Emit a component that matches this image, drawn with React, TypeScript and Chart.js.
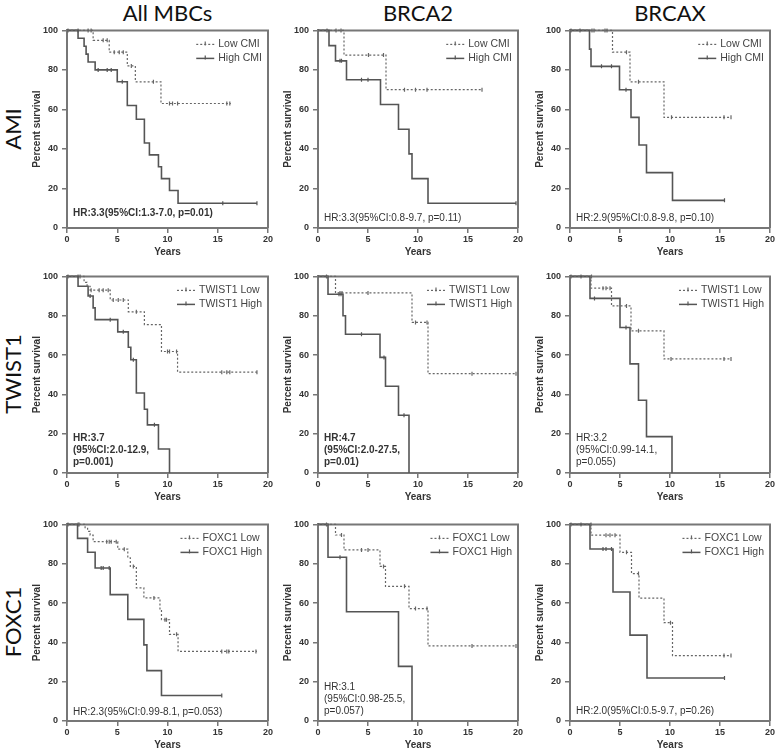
import React, { useEffect, useRef } from 'react';
import { Chart, registerables } from 'chart.js';

Chart.register(...registerables);

type Pt = [number, number];

// ---------- labels ----------
const COL_TITLES = ['All MBCs', 'BRCA2', 'BRCAX'];
const ROW_TITLES = ['AMI', 'TWIST1', 'FOXC1'];
const LEGEND_LOW = ['Low CMI', 'TWIST1 Low', 'FOXC1 Low'];
const LEGEND_HIGH = ['High CMI', 'TWIST1 High', 'FOXC1 High'];
const X_TITLE = 'Years';
const Y_TITLE = 'Percent survival';
const X_RANGE: Pt = [0, 20];
const X_STEP = 5;
const Y_RANGE: Pt = [0, 100];
const Y_STEP = 20;

const HR_TEXT: string[][] = [
  ['HR:3.3(95%CI:1.3-7.0, p=0.01)'],
  ['HR:3.3(95%CI:0.8-9.7, p=0.11)'],
  ['HR:2.9(95%CI:0.8-9.8, p=0.10)'],
  ['HR:3.7', '(95%CI:2.0-12.9,', 'p=0.001)'],
  ['HR:4.7', '(95%CI:2.0-27.5,', 'p=0.01)'],
  ['HR:3.2', '(95%CI:0.99-14.1,', 'p=0.055)'],
  ['HR:2.3(95%CI:0.99-8.1, p=0.053)'],
  ['HR:3.1', '(95%CI:0.98-25.5,', 'p=0.057)'],
  ['HR:2.0(95%CI:0.5-9.7, p=0.26)'],
];
const HR_BOLD = [true, false, false, true, true, false, false, false, false];

// ---------- data: steps [years, % survival] and censored marks ----------
// AMI / All MBCs
const amiAllLow: Pt[] = [[0, 100], [2.6, 95], [4.2, 89], [6.0, 82], [6.8, 74], [9.35, 63], [16.3, 63]];
const amiAllLowCens: Pt[] = [[0.1, 100], [1.1, 100], [2.1, 100], [2.4, 100], [3.6, 95], [4.0, 95], [4.7, 89], [5.2, 89], [5.6, 89], [6.4, 82], [8.6, 74], [10.2, 63], [10.5, 63], [11.0, 63], [15.9, 63], [16.2, 63]];
const amiAllHigh: Pt[] = [[0, 100], [1.1, 96], [1.7, 92], [1.9, 88], [2.1, 84], [2.8, 80], [5.0, 74], [6.0, 62], [6.9, 55], [7.7, 43], [8.2, 37], [9.1, 31], [9.4, 25], [10.2, 19], [11.05, 12.5], [18.9, 12.5]];
const amiAllHighCens: Pt[] = [[3.1, 80], [4.0, 80], [4.4, 80], [5.5, 74], [15.5, 12.5], [18.9, 12.5]];
// AMI / BRCA2
const amiB2Low: Pt[] = [[0, 100], [2.6, 87.5], [6.8, 70], [16.4, 70]];
const amiB2LowCens: Pt[] = [[0.9, 100], [1.8, 100], [2.3, 100], [5.05, 87.5], [6.55, 87.5], [8.65, 70], [9.75, 70], [10.9, 70], [16.4, 70]];
const amiB2High: Pt[] = [[0, 100], [1.1, 92.3], [1.75, 84.6], [2.85, 75], [6.25, 62.5], [8.05, 50], [9.1, 37.5], [9.4, 25], [11.0, 12.5], [19.8, 12.5]];
const amiB2HighCens: Pt[] = [[2.2, 84.6], [2.35, 84.6], [4.35, 75], [5.0, 75], [19.8, 12.5]];
// AMI / BRCAX
const amiBXLow: Pt[] = [[0, 100], [4.25, 89], [6.0, 74], [9.4, 56], [16.1, 56]];
const amiBXLowCens: Pt[] = [[0.1, 100], [1.0, 100], [2.2, 100], [2.4, 100], [3.5, 100], [3.7, 100], [5.65, 89], [6.85, 74], [10.15, 56], [15.4, 56], [16.1, 56]];
const amiBXHigh: Pt[] = [[0, 100], [1.95, 90.5], [2.1, 81.8], [4.95, 70], [6.1, 56], [6.9, 42], [7.65, 28], [10.25, 14], [15.45, 14]];
const amiBXHighCens: Pt[] = [[3.15, 81.8], [4.15, 81.8], [5.6, 70], [15.45, 14]];
// TWIST1 / All MBCs
const twAllLow: Pt[] = [[0, 100], [1.7, 97], [2.0, 95], [2.3, 93], [4.3, 88], [6.1, 82], [7.7, 75.5], [9.4, 61.8], [11.0, 51.3], [18.9, 51.3]];
const twAllLowCens: Pt[] = [[0.1, 100], [1.1, 100], [1.3, 100], [2.4, 93], [3.2, 93], [3.6, 93], [4.1, 93], [4.6, 88], [5.1, 88], [5.6, 88], [6.9, 82], [10.0, 61.8], [10.2, 61.8], [10.9, 61.8], [15.4, 51.3], [15.9, 51.3], [16.2, 51.3], [18.9, 51.3]];
const twAllHigh: Pt[] = [[0, 100], [1.1, 95], [2.1, 90], [2.6, 84], [2.8, 78], [5.05, 71.8], [6.1, 64], [6.35, 57.6], [6.9, 40.7], [7.7, 32.4], [8.0, 24.5], [9.1, 12.2], [10.2, 0]];
const twAllHighCens: Pt[] = [[2.3, 90], [4.3, 78], [5.6, 71.8], [6.6, 57.6], [8.7, 24.5]];
// TWIST1 / BRCA2
const twB2Low: Pt[] = [[0, 100], [1.75, 91.6], [9.4, 76.6], [11.0, 50.5], [19.8, 50.5]];
const twB2LowCens: Pt[] = [[0.85, 100], [2.2, 91.6], [2.4, 91.6], [5.0, 91.6], [9.75, 76.6], [10.9, 76.6], [15.4, 50.5], [19.8, 50.5]];
const twB2High: Pt[] = [[0, 100], [1.0, 90.9], [2.5, 80], [2.75, 70.6], [6.2, 58.8], [6.75, 44.1], [8.05, 29.4], [9.1, 0]];
const twB2HighCens: Pt[] = [[2.1, 90.9], [2.3, 90.9], [4.35, 70.6], [6.6, 58.8], [8.6, 29.4]];
// TWIST1 / BRCAX
const twBXLow: Pt[] = [[0, 100], [2.1, 94], [4.15, 85], [6.1, 72.3], [9.4, 58], [16.1, 58]];
const twBXLowCens: Pt[] = [[0.1, 100], [1.1, 100], [2.15, 100], [3.3, 94], [3.6, 94], [4.0, 94], [5.65, 85], [6.85, 72.3], [10.1, 58], [15.4, 58], [16.1, 58]];
const twBXHigh: Pt[] = [[0, 100], [2.0, 88.8], [5.0, 74], [6.0, 55.5], [6.85, 37], [7.65, 18.5], [10.2, 0]];
const twBXHighCens: Pt[] = [[2.45, 88.8], [5.6, 74]];
// FOXC1 / All MBCs
const fxAllLow: Pt[] = [[0, 100], [1.8, 98], [2.05, 96.5], [2.3, 94.5], [2.6, 91.2], [5.05, 87.4], [6.05, 83], [6.3, 78.6], [6.9, 67.7], [7.65, 62.6], [9.25, 56.7], [9.4, 51.5], [10.2, 44.1], [11.05, 35.4], [18.9, 35.4]];
const fxAllLowCens: Pt[] = [[0.1, 100], [1.1, 100], [1.2, 100], [3.95, 91.2], [4.2, 91.2], [4.4, 91.2], [4.9, 91.2], [5.7, 87.4], [6.6, 78.6], [8.65, 62.6], [9.75, 51.5], [9.9, 51.5], [10.9, 44.1], [15.4, 35.4], [15.9, 35.4], [16.1, 35.4], [18.8, 35.4]];
const fxAllHigh: Pt[] = [[0, 100], [1.05, 92.9], [2.05, 85.8], [2.8, 77.8], [4.3, 64.3], [6.05, 51.7], [7.65, 38.7], [7.95, 25.6], [9.4, 13], [15.4, 13]];
const fxAllHighCens: Pt[] = [[3.4, 77.8], [3.6, 77.8], [4.2, 77.8], [15.4, 13]];
// FOXC1 / BRCA2
const fxB2Low: Pt[] = [[0, 100], [1.75, 94.6], [2.6, 87], [6.2, 78.6], [6.75, 68.5], [9.1, 57.2], [11.0, 38.2], [19.8, 38.2]];
const fxB2LowCens: Pt[] = [[0.85, 100], [2.35, 94.6], [4.35, 87], [5.0, 87], [6.55, 78.6], [8.65, 68.5], [9.75, 57.2], [10.9, 57.2], [15.4, 38.2], [19.8, 38.2]];
const fxB2High: Pt[] = [[0, 100], [1.0, 83.3], [2.85, 55.6], [8.05, 27.8], [9.4, 0]];
const fxB2HighCens: Pt[] = [[2.2, 83.3]];
// FOXC1 / BRCAX
const fxBXLow: Pt[] = [[0, 100], [2.1, 94.5], [5.0, 85.8], [6.15, 75], [6.9, 62.5], [9.4, 50], [10.25, 33.3], [16.1, 33.3]];
const fxBXLowCens: Pt[] = [[0.1, 100], [1.1, 100], [2.1, 100], [3.6, 94.5], [4.0, 94.5], [4.5, 94.5], [5.65, 85.8], [6.85, 75], [10.05, 50], [15.4, 33.3], [16.1, 33.3]];
const fxBXHigh: Pt[] = [[0, 100], [2.0, 87.5], [4.3, 65.6], [6.0, 43.7], [7.7, 21.9], [15.45, 21.9]];
const fxBXHighCens: Pt[] = [[3.3, 87.5], [3.6, 87.5], [4.15, 87.5], [15.45, 21.9]];

const PANEL_DATA: Pt[][][] = [
  [amiAllLow, amiAllLowCens, amiAllHigh, amiAllHighCens],
  [amiB2Low, amiB2LowCens, amiB2High, amiB2HighCens],
  [amiBXLow, amiBXLowCens, amiBXHigh, amiBXHighCens],
  [twAllLow, twAllLowCens, twAllHigh, twAllHighCens],
  [twB2Low, twB2LowCens, twB2High, twB2HighCens],
  [twBXLow, twBXLowCens, twBXHigh, twBXHighCens],
  [fxAllLow, fxAllLowCens, fxAllHigh, fxAllHighCens],
  [fxB2Low, fxB2LowCens, fxB2High, fxB2HighCens],
  [fxBXLow, fxBXLowCens, fxBXHigh, fxBXHighCens],
];

// ---------- layout (plot areas in page pixels) ----------
const COL_X: Pt[] = [[67, 268], [318, 518], [570, 770]];
const ROW_Y: Pt[] = [[29, 228], [275, 473], [523, 721]];
const HR_OFFSET = [15, 10, 10, 11, 11, 11, 9, 10, 10];
const Y_AXIS_W = 60;
const X_AXIS_H = 30;
const PAD = 8;

const SANS = '"Liberation Sans", Arial, sans-serif';
const AXIS_COLOR = '#777';
const TEXT_COLOR = '#333';
const LOW_COLOR = '#666';
const HIGH_COLOR = '#555';

const toXY = (arr: Pt[]) => arr.map(([x, y]) => ({ x, y }));

function drawMarker(ctx: CanvasRenderingContext2D, x: number, y: number, color: string) {
  ctx.save();
  ctx.setLineDash([]);
  ctx.strokeStyle = color;
  ctx.lineWidth = 1.2;
  ctx.beginPath();
  ctx.moveTo(x, y - 2);
  ctx.lineTo(x, y + 2);
  ctx.stroke();
  ctx.restore();
}

function Panel({ idx }: { idx: number }) {
  const ref = useRef<HTMLCanvasElement>(null);
  const row = Math.floor(idx / 3);
  const col = idx % 3;
  const [pl, pr] = COL_X[col];
  const [pt, pb] = ROW_Y[row];
  const left = pl - Y_AXIS_W;
  const top = pt - PAD;
  const width = pr - pl + Y_AXIS_W + PAD;
  const height = pb - pt + PAD + X_AXIS_H;

  useEffect(() => {
    const [low, lowC, high, highC] = PANEL_DATA[idx];
    const framePlugin = {
      id: 'frame',
      beforeDatasetsDraw(chart: any) {
        const { ctx, chartArea: a } = chart;
        ctx.save();
        ctx.strokeStyle = AXIS_COLOR;
        ctx.lineWidth = 2;
        ctx.beginPath();
        ctx.moveTo(a.left, a.top);
        ctx.lineTo(a.right, a.top);
        ctx.lineTo(a.right, a.bottom);
        ctx.stroke();
        ctx.restore();
      },
    };
    const annotPlugin = {
      id: 'annot',
      afterDraw(chart: any) {
        const { ctx, chartArea: a } = chart;
        ctx.save();
        // legend
        ctx.font = `10.5px ${SANS}`;
        const labels = [LEGEND_LOW[row], LEGEND_HIGH[row]];
        const maxW = Math.max(...labels.map((l) => ctx.measureText(l).width));
        const tx = a.right - 6 - maxW;
        labels.forEach((lab, i) => {
          const y = a.top + 14 + i * 14;
          ctx.fillStyle = '#444';
          ctx.textBaseline = 'middle';
          ctx.textAlign = 'left';
          ctx.fillText(lab, tx, y);
          const color = i === 0 ? LOW_COLOR : HIGH_COLOR;
          ctx.strokeStyle = color;
          ctx.lineWidth = i === 0 ? 1.2 : 1.5;
          ctx.setLineDash(i === 0 ? [2, 2] : []);
          ctx.beginPath();
          ctx.moveTo(tx - 22, y);
          ctx.lineTo(tx - 4, y);
          ctx.stroke();
          drawMarker(ctx, tx - 13, y - 1, color);
        });
        ctx.setLineDash([]);
        // HR text
        const lines = HR_TEXT[idx];
        ctx.font = `${HR_BOLD[idx] ? 'bold ' : ''}10px ${SANS}`;
        ctx.fillStyle = TEXT_COLOR;
        ctx.textBaseline = 'middle';
        ctx.textAlign = 'left';
        const lastY = a.bottom - HR_OFFSET[idx];
        lines.forEach((ln, i) => {
          ctx.fillText(ln, a.left + 6, lastY - (lines.length - 1 - i) * 12);
        });
        ctx.restore();
      },
    };

    const tickFont = { family: SANS, size: 9, weight: 'bold' as const };
    const titleFont = { family: SANS, size: 10, weight: 'bold' as const };
    const censDs = (arr: Pt[], color: string) => ({
      data: toXY(arr),
      showLine: false,
      pointStyle: 'line',
      rotation: 90,
      pointRadius: 2,
      pointBorderWidth: 1.2,
      pointBorderColor: color,
      pointBackgroundColor: color,
      clip: 8,
    });
    const chart = new Chart(ref.current as HTMLCanvasElement, {
      type: 'line',
      data: {
        datasets: [
          {
            data: toXY(low),
            stepped: 'before',
            borderColor: LOW_COLOR,
            borderWidth: 1.2,
            borderDash: [2, 2],
            pointRadius: 0,
            fill: false,
            clip: 8,
          } as any,
          {
            data: toXY(high),
            stepped: 'before',
            borderColor: HIGH_COLOR,
            borderWidth: 1.6,
            pointRadius: 0,
            fill: false,
            clip: 8,
          } as any,
          censDs(lowC, LOW_COLOR) as any,
          censDs(highC, HIGH_COLOR) as any,
        ],
      },
      options: {
        animation: false,
        responsive: false,
        events: [],
        layout: { padding: { top: PAD, right: PAD, left: 0, bottom: 0 } },
        plugins: { legend: { display: false }, tooltip: { enabled: false } },
        scales: {
          x: {
            type: 'linear',
            min: X_RANGE[0],
            max: X_RANGE[1],
            ticks: { stepSize: X_STEP, font: tickFont, color: TEXT_COLOR, padding: 1, maxRotation: 0, autoSkip: false },
            grid: { display: true, drawOnChartArea: false, drawTicks: true, tickLength: 5, color: AXIS_COLOR, lineWidth: 1.5 },
            border: { display: true, color: AXIS_COLOR, width: 2 },
            title: { display: true, text: X_TITLE, font: titleFont, color: TEXT_COLOR, padding: { top: 0, bottom: 0 } },
            afterFit: (s: any) => { s.height = X_AXIS_H; },
          },
          y: {
            type: 'linear',
            min: Y_RANGE[0],
            max: Y_RANGE[1],
            ticks: { stepSize: Y_STEP, font: tickFont, color: TEXT_COLOR, padding: 4 },
            grid: { display: true, drawOnChartArea: false, drawTicks: true, tickLength: 5, color: AXIS_COLOR, lineWidth: 1.5 },
            border: { display: true, color: AXIS_COLOR, width: 2 },
            title: { display: true, text: Y_TITLE, font: titleFont, color: TEXT_COLOR, padding: { top: 24, bottom: 0 } },
            afterFit: (s: any) => { s.width = Y_AXIS_W; },
          },
        },
      } as any,
      plugins: [framePlugin, annotPlugin],
    });
    return () => chart.destroy();
  }, [idx]);

  return (
    <canvas
      ref={ref}
      width={width}
      height={height}
      style={{ position: 'absolute', left, top, width, height }}
    />
  );
}

export default function App() {
  return (
    <div
      style={{
        position: 'absolute',
        left: 0,
        top: 0,
        width: 778,
        height: 751,
        background: '#fff',
        overflow: 'hidden',
      }}
    >
      {COL_TITLES.map((t, c) => {
        const cx = (COL_X[c][0] + COL_X[c][1]) / 2;
        return (
          <div
            key={t}
            style={{
              position: 'absolute',
              left: cx - 100,
              top: -1,
              width: 200,
              height: 28,
              lineHeight: '28px',
              textAlign: 'center',
              fontFamily: 'Lato, "Open Sans", sans-serif',
              fontSize: 22,
              color: '#111',
            }}
          >
            {t}
          </div>
        );
      })}
      {ROW_TITLES.map((t, r) => {
        const cy = (ROW_Y[r][0] + ROW_Y[r][1]) / 2;
        return (
          <div
            key={t}
            style={{
              position: 'absolute',
              left: 13 - 60,
              top: cy - 14,
              width: 120,
              height: 28,
              lineHeight: '28px',
              textAlign: 'center',
              fontFamily: 'Lato, "Open Sans", sans-serif',
              fontSize: 22,
              color: '#111',
              transform: 'rotate(-90deg)',
            }}
          >
            {t}
          </div>
        );
      })}
      {Array.from({ length: 9 }, (_, i) => (
        <Panel key={i} idx={i} />
      ))}
    </div>
  );
}
